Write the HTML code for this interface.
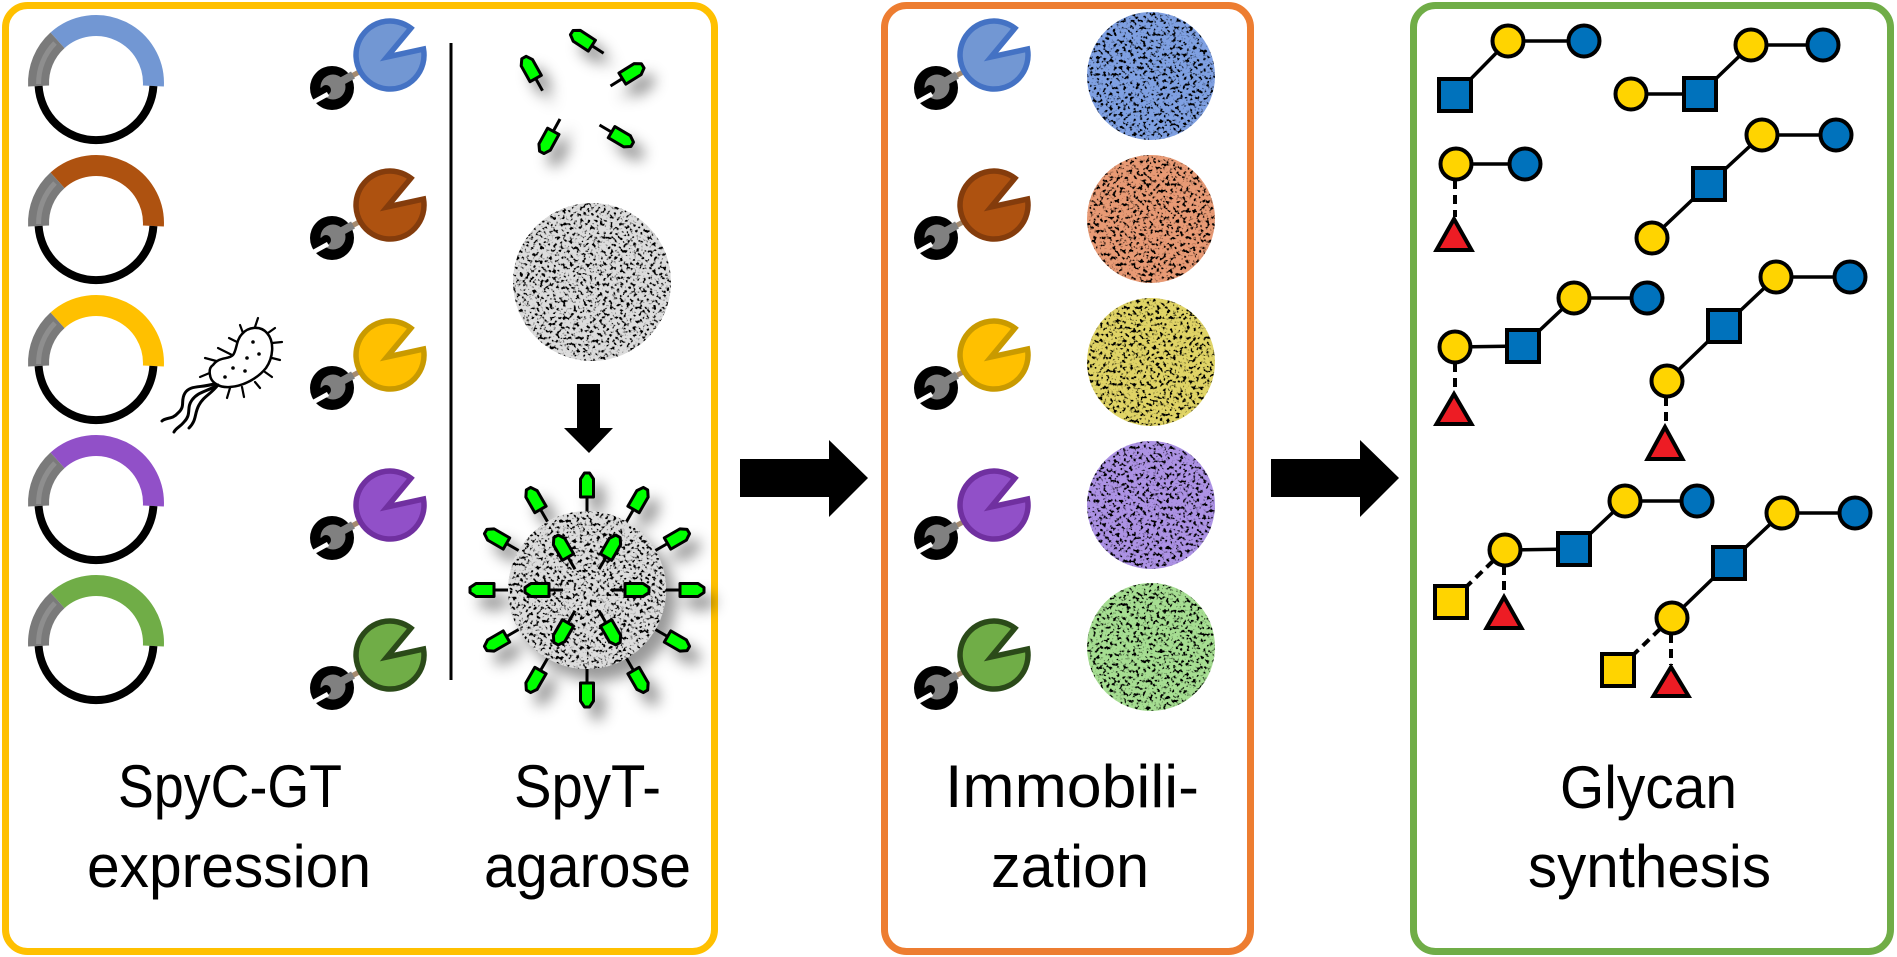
<!DOCTYPE html>
<html><head><meta charset="utf-8"><style>html,body{margin:0;padding:0;background:#fff}svg{display:block}</style></head>
<body>
<svg xmlns="http://www.w3.org/2000/svg" width="1897" height="957" viewBox="0 0 1897 957">
<defs>
<filter id="speck" x="-5%" y="-5%" width="110%" height="110%">
 <feTurbulence type="fractalNoise" baseFrequency="0.3" numOctaves="2" seed="7" result="noise"/>
 <feColorMatrix in="noise" type="matrix" values="0 0 0 0 0  0 0 0 0 0  0 0 0 0 0  -7 0 0 0 3.4" result="dark"/>
 <feComposite in="dark" in2="SourceGraphic" operator="in" result="darkIn"/>
 <feMerge><feMergeNode in="SourceGraphic"/><feMergeNode in="darkIn"/></feMerge>
</filter>
<filter id="sh" x="-40%" y="-40%" width="180%" height="180%">
 <feDropShadow dx="10" dy="12" stdDeviation="7" flood-color="#000" flood-opacity="0.4"/>
</filter>
<g id="tag"><line x1="0" y1="0" x2="15" y2="0" stroke="#000" stroke-width="3"/><polygon points="14,-6.5 32,-6.5 38,-2.5 38,2.5 32,6.5 14,6.5" fill="#00FF00" stroke="#000" stroke-width="3" stroke-linejoin="round"/></g>
<g id="wr">
 <line x1="16" y1="-10" x2="40" y2="-23" stroke="#a58a6e" stroke-width="5"/>
 <circle r="22" fill="#000"/>
 <line x1="1" y1="-2" x2="21" y2="-13" stroke="#808080" stroke-width="8"/>
 <circle cx="1" cy="-1" r="12.5" fill="#808080"/>
 <circle cx="-6" cy="2" r="5" fill="#000"/>
 <line x1="-6" y1="2" x2="-16" y2="8" stroke="#000" stroke-width="9"/>
 <line x1="-24" y1="17" x2="-4" y2="6" stroke="#fff" stroke-width="4.5"/>
</g>
</defs>

<!-- boxes -->
<rect x="5.5" y="5.5" width="709" height="946" rx="22" fill="none" stroke="#FFC000" stroke-width="7"/>
<rect x="884.5" y="5.5" width="366" height="946" rx="22" fill="none" stroke="#ED7D31" stroke-width="7"/>
<rect x="1413.5" y="5.5" width="477" height="946" rx="22" fill="none" stroke="#70AD47" stroke-width="7"/>

<!-- arrows -->
<polygon points="740,459 829,459 829,440 868,478 829,517 829,497 740,497" fill="#000"/>
<polygon points="1271,459 1360,459 1360,440 1399,478 1360,517 1360,497 1271,497" fill="#000"/>
<polygon points="577,384 600,384 600,428 613,428 589,453 564,428 577,428" fill="#000"/>

<!-- vertical divider -->
<line x1="451" y1="43" x2="451" y2="680" stroke="#000" stroke-width="3"/>

<!-- plasmids -->
<g fill="none">
 <g transform="translate(96,83)">
  <path d="M57.4,3 A57.5,57.5 0 0 0 -38.5,-42.7" stroke="#7297D3" stroke-width="21"/>
  <path d="M-38.5,-42.7 A57.5,57.5 0 0 0 -57.4,3" stroke="#7a7a7a" stroke-width="21"/>
  <path d="M-41,-40 A57.5,57.5 0 0 0 -57.4,1" stroke="#8e8e8e" stroke-width="5"/>
  <path d="M-57.4,3 A57.5,57.5 0 0 0 57.4,3" stroke="#000" stroke-width="8"/>
 </g>
 <g transform="translate(96,223)">
  <path d="M57.4,3 A57.5,57.5 0 0 0 -38.5,-42.7" stroke="#AE5210" stroke-width="21"/>
  <path d="M-38.5,-42.7 A57.5,57.5 0 0 0 -57.4,3" stroke="#7a7a7a" stroke-width="21"/>
  <path d="M-41,-40 A57.5,57.5 0 0 0 -57.4,1" stroke="#8e8e8e" stroke-width="5"/>
  <path d="M-57.4,3 A57.5,57.5 0 0 0 57.4,3" stroke="#000" stroke-width="8"/>
 </g>
 <g transform="translate(96,363)">
  <path d="M57.4,3 A57.5,57.5 0 0 0 -38.5,-42.7" stroke="#FFC000" stroke-width="21"/>
  <path d="M-38.5,-42.7 A57.5,57.5 0 0 0 -57.4,3" stroke="#7a7a7a" stroke-width="21"/>
  <path d="M-41,-40 A57.5,57.5 0 0 0 -57.4,1" stroke="#8e8e8e" stroke-width="5"/>
  <path d="M-57.4,3 A57.5,57.5 0 0 0 57.4,3" stroke="#000" stroke-width="8"/>
 </g>
 <g transform="translate(96,503)">
  <path d="M57.4,3 A57.5,57.5 0 0 0 -38.5,-42.7" stroke="#9150C8" stroke-width="21"/>
  <path d="M-38.5,-42.7 A57.5,57.5 0 0 0 -57.4,3" stroke="#7a7a7a" stroke-width="21"/>
  <path d="M-41,-40 A57.5,57.5 0 0 0 -57.4,1" stroke="#8e8e8e" stroke-width="5"/>
  <path d="M-57.4,3 A57.5,57.5 0 0 0 57.4,3" stroke="#000" stroke-width="8"/>
 </g>
 <g transform="translate(96,643)">
  <path d="M57.4,3 A57.5,57.5 0 0 0 -38.5,-42.7" stroke="#70AD47" stroke-width="21"/>
  <path d="M-38.5,-42.7 A57.5,57.5 0 0 0 -57.4,3" stroke="#7a7a7a" stroke-width="21"/>
  <path d="M-41,-40 A57.5,57.5 0 0 0 -57.4,1" stroke="#8e8e8e" stroke-width="5"/>
  <path d="M-57.4,3 A57.5,57.5 0 0 0 57.4,3" stroke="#000" stroke-width="8"/>
 </g>
</g>

<!-- bacterium -->
<g stroke="#000" stroke-linecap="round" fill="none">
 <g stroke-width="2.2">
  <line x1="255" y1="327" x2="258" y2="318"/>
  <line x1="268" y1="333" x2="275" y2="328"/>
  <line x1="272" y1="343" x2="282" y2="342"/>
  <line x1="272" y1="358" x2="280" y2="360"/>
  <line x1="265" y1="372" x2="272" y2="377"/>
  <line x1="255" y1="382" x2="260" y2="388"/>
  <line x1="242" y1="387" x2="244" y2="397"/>
  <line x1="230" y1="388" x2="227" y2="398"/>
  <line x1="237" y1="342" x2="229" y2="338"/>
  <line x1="232" y1="355" x2="218" y2="348"/>
  <line x1="220" y1="362" x2="205" y2="358"/>
  <line x1="212" y1="372" x2="200" y2="377"/>
  <line x1="243" y1="333" x2="240" y2="325"/>
 </g>
 <path d="M213,365 C220,356 228,360 233,355 C237,350 236,340 242,334 C248,327 260,325 267,333 C275,342 273,358 266,368 C258,378 244,386 230,387 C220,388 211,383 210,375 C209,370 210,367 213,365 Z" fill="#fff" stroke-width="2.5"/>
 <g stroke-width="3">
  <path d="M214,384 C200,388 190,385 185,393 C180,401 186,406 178,413 C172,420 166,417 162,421"/>
  <path d="M216,386 C205,392 198,392 192,400 C186,408 192,414 184,422 C180,427 176,428 174,432"/>
  <path d="M218,385 C210,395 204,396 199,405 C194,414 197,420 189,428"/>
 </g>
 <g fill="#000" stroke="none">
  <circle cx="253" cy="342" r="1.8"/><circle cx="259" cy="354" r="1.8"/><circle cx="247" cy="358" r="1.8"/>
  <circle cx="233" cy="368" r="1.8"/><circle cx="245" cy="371" r="1.8"/><circle cx="225" cy="377" r="1.8"/>
 </g>
</g>

<!-- enzymes left box -->
<g stroke-width="5.5" stroke-linejoin="miter">
 <g transform="translate(332,88)"><use href="#wr"/><path d="M78.9,-59.8 A34,34 0 1 0 91.5,-38.9 L55,-31 Z" fill="#7297D3" stroke="#4472C4"/></g>
 <g transform="translate(332,238)"><use href="#wr"/><path d="M78.9,-59.8 A34,34 0 1 0 91.5,-38.9 L55,-31 Z" fill="#AE5210" stroke="#843C0C"/></g>
 <g transform="translate(332,388)"><use href="#wr"/><path d="M78.9,-59.8 A34,34 0 1 0 91.5,-38.9 L55,-31 Z" fill="#FFC000" stroke="#C99A00"/></g>
 <g transform="translate(332,538)"><use href="#wr"/><path d="M78.9,-59.8 A34,34 0 1 0 91.5,-38.9 L55,-31 Z" fill="#9150C8" stroke="#7030A0"/></g>
 <g transform="translate(332,688)"><use href="#wr"/><path d="M78.9,-59.8 A34,34 0 1 0 91.5,-38.9 L55,-31 Z" fill="#70AD47" stroke="#2B4A19"/></g>
</g>

<!-- enzymes middle box -->
<g stroke-width="5.5" stroke-linejoin="miter">
 <g transform="translate(936,88)"><use href="#wr"/><path d="M78.9,-59.8 A34,34 0 1 0 91.5,-38.9 L55,-31 Z" fill="#7297D3" stroke="#4472C4"/></g>
 <g transform="translate(936,238)"><use href="#wr"/><path d="M78.9,-59.8 A34,34 0 1 0 91.5,-38.9 L55,-31 Z" fill="#AE5210" stroke="#843C0C"/></g>
 <g transform="translate(936,388)"><use href="#wr"/><path d="M78.9,-59.8 A34,34 0 1 0 91.5,-38.9 L55,-31 Z" fill="#FFC000" stroke="#C99A00"/></g>
 <g transform="translate(936,538)"><use href="#wr"/><path d="M78.9,-59.8 A34,34 0 1 0 91.5,-38.9 L55,-31 Z" fill="#9150C8" stroke="#7030A0"/></g>
 <g transform="translate(936,688)"><use href="#wr"/><path d="M78.9,-59.8 A34,34 0 1 0 91.5,-38.9 L55,-31 Z" fill="#70AD47" stroke="#2B4A19"/></g>
</g>

<!-- colored beads -->
<circle cx="1151" cy="76" r="64" fill="#7FA0E2" filter="url(#speck)"/>
<circle cx="1151" cy="219" r="64" fill="#E89A74" filter="url(#speck)"/>
<circle cx="1151" cy="362" r="64" fill="#E0D466" filter="url(#speck)"/>
<circle cx="1151" cy="505" r="64" fill="#AC92E4" filter="url(#speck)"/>
<circle cx="1151" cy="647" r="64" fill="#A6DE92" filter="url(#speck)"/>

<!-- gray bead -->
<circle cx="592" cy="282" r="79" fill="#DCDCDC" filter="url(#speck)"/>

<!-- scattered tags -->
<g filter="url(#sh)">
 <use href="#tag" transform="translate(603.6,53.3) rotate(-146.9)"/>
 <use href="#tag" transform="translate(542.5,90.7) rotate(-119.2)"/>
 <use href="#tag" transform="translate(610.5,86) rotate(-31.9)"/>
 <use href="#tag" transform="translate(560,119) rotate(118.7)"/>
 <use href="#tag" transform="translate(599.5,125) rotate(30.6)"/>
</g>

<!-- tagged bead -->
<g filter="url(#sh)">
 <circle cx="587" cy="590" r="79" fill="#DCDCDC" filter="url(#speck)"/>
 <g transform="translate(587,590)">
  <use href="#tag" transform="rotate(0) translate(79,0)"/>
  <use href="#tag" transform="rotate(30) translate(79,0)"/>
  <use href="#tag" transform="rotate(60) translate(79,0)"/>
  <use href="#tag" transform="rotate(90) translate(79,0)"/>
  <use href="#tag" transform="rotate(120) translate(79,0)"/>
  <use href="#tag" transform="rotate(150) translate(79,0)"/>
  <use href="#tag" transform="rotate(180) translate(79,0)"/>
  <use href="#tag" transform="rotate(210) translate(79,0)"/>
  <use href="#tag" transform="rotate(240) translate(79,0)"/>
  <use href="#tag" transform="rotate(270) translate(79,0)"/>
  <use href="#tag" transform="rotate(300) translate(79,0)"/>
  <use href="#tag" transform="rotate(330) translate(79,0)"/>
  <use href="#tag" transform="rotate(0) translate(24,0)"/>
  <use href="#tag" transform="rotate(60) translate(24,0)"/>
  <use href="#tag" transform="rotate(120) translate(24,0)"/>
  <use href="#tag" transform="rotate(180) translate(24,0)"/>
  <use href="#tag" transform="rotate(240) translate(24,0)"/>
  <use href="#tag" transform="rotate(300) translate(24,0)"/>
 </g>
</g>

<!-- glycans: links -->
<g stroke="#000" stroke-width="3.5" fill="none">
 <polyline points="1455,95 1508,41 1584,41"/>
 <polyline points="1631,94 1700,94 1751,45 1823,45"/>
 <polyline points="1456,164 1525,164"/>
 <polyline points="1652,238 1709,184 1762,135 1836,135"/>
 <polyline points="1455,347 1523,346 1574,298 1647,298"/>
 <polyline points="1667,381 1724,326 1776,277 1850,277"/>
 <polyline points="1505,550 1574,549 1625,501 1697,501"/>
 <polyline points="1672,618 1729,563 1782,513 1855,513"/>
</g>
<g stroke="#000" stroke-width="4" fill="none" stroke-dasharray="9 6">
 <line x1="1455" y1="180" x2="1455" y2="217"/>
 <line x1="1455" y1="363" x2="1455" y2="392"/>
 <line x1="1666" y1="397" x2="1666" y2="425"/>
 <line x1="1504" y1="566" x2="1504" y2="595"/>
 <line x1="1493" y1="561" x2="1463" y2="590"/>
 <line x1="1671" y1="634" x2="1671" y2="665"/>
 <line x1="1660" y1="629" x2="1630" y2="658"/>
</g>
<!-- glycans: residues -->
<g stroke="#000" stroke-width="4">
 <g fill="#0072BC">
  <rect x="1439" y="79" width="32" height="32"/>
  <rect x="1684" y="78" width="32" height="32"/>
  <rect x="1693" y="168" width="32" height="32"/>
  <rect x="1507" y="330" width="32" height="32"/>
  <rect x="1708" y="310" width="32" height="32"/>
  <rect x="1558" y="533" width="32" height="32"/>
  <rect x="1713" y="547" width="32" height="32"/>
  <circle cx="1584" cy="41" r="15.5"/>
  <circle cx="1823" cy="45" r="15.5"/>
  <circle cx="1525" cy="164" r="15.5"/>
  <circle cx="1836" cy="135" r="15.5"/>
  <circle cx="1647" cy="298" r="15.5"/>
  <circle cx="1850" cy="277" r="15.5"/>
  <circle cx="1697" cy="501" r="15.5"/>
  <circle cx="1855" cy="513" r="15.5"/>
 </g>
 <g fill="#FFD400">
  <circle cx="1508" cy="41" r="15.5"/>
  <circle cx="1631" cy="94" r="15.5"/>
  <circle cx="1751" cy="45" r="15.5"/>
  <circle cx="1456" cy="164" r="15.5"/>
  <circle cx="1652" cy="238" r="15.5"/>
  <circle cx="1762" cy="135" r="15.5"/>
  <circle cx="1455" cy="347" r="15.5"/>
  <circle cx="1574" cy="298" r="15.5"/>
  <circle cx="1667" cy="381" r="15.5"/>
  <circle cx="1776" cy="277" r="15.5"/>
  <circle cx="1505" cy="550" r="15.5"/>
  <circle cx="1625" cy="501" r="15.5"/>
  <circle cx="1672" cy="618" r="15.5"/>
  <circle cx="1782" cy="513" r="15.5"/>
  <rect x="1435" y="586" width="32" height="32"/>
  <rect x="1602" y="654" width="32" height="32"/>
 </g>
 <g fill="#ED1C24" stroke-linejoin="miter">
  <polygon points="1454,219 1436.5,250 1471.5,250"/>
  <polygon points="1454,394 1436.5,424 1471.5,424"/>
  <polygon points="1665,427 1647.5,459 1682.5,459"/>
  <polygon points="1504,597 1486.5,628 1521.5,628"/>
  <polygon points="1671,667 1653.5,696 1688.5,696"/>
 </g>
</g>

<!-- labels -->
<g font-family="'Liberation Sans', Arial, sans-serif" font-size="60" fill="#000">
 <text x="118" y="807" textLength="224" lengthAdjust="spacingAndGlyphs">SpyC-GT</text>
 <text x="87" y="887" textLength="284" lengthAdjust="spacingAndGlyphs">expression</text>
 <text x="514" y="807" textLength="147" lengthAdjust="spacingAndGlyphs">SpyT-</text>
 <text x="484" y="887" textLength="207" lengthAdjust="spacingAndGlyphs">agarose</text>
 <text x="945" y="807" textLength="254" lengthAdjust="spacingAndGlyphs">Immobili-</text>
 <text x="991" y="887" textLength="158" lengthAdjust="spacingAndGlyphs">zation</text>
 <text x="1560" y="808" textLength="177" lengthAdjust="spacingAndGlyphs">Glycan</text>
 <text x="1528" y="887" textLength="243" lengthAdjust="spacingAndGlyphs">synthesis</text>
</g>
</svg>
</body></html>
